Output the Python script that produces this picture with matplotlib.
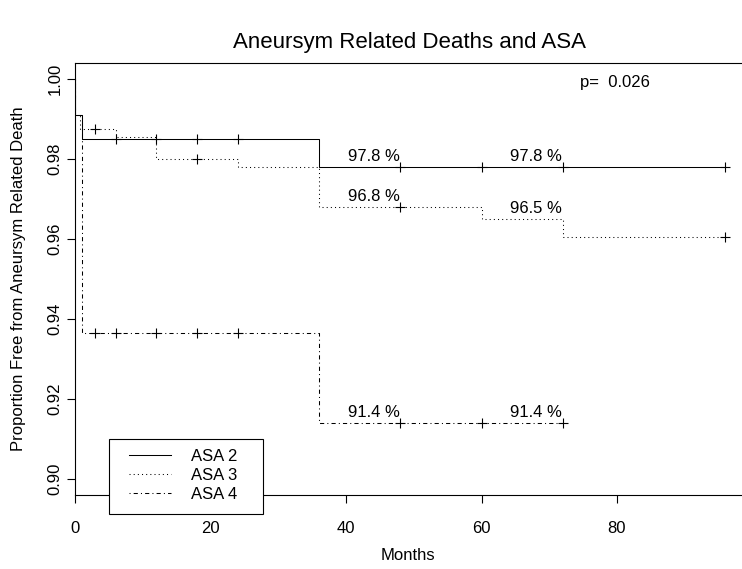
import numpy as np
import matplotlib
matplotlib.use("Agg")
import matplotlib.pyplot as plt
from matplotlib.patches import Rectangle

plt.rcParams['font.family'] = ['Liberation Sans', 'DejaVu Sans']

# Kaplan-Meier step curves (time in months, survival proportion)
asa2_t = [0, 0, 1, 36, 96]
asa2_s = [1.0, 0.991, 0.985, 0.978, 0.978]
asa3_t = [0, 0, 0.8, 6, 12, 24, 36, 60, 72, 96]
asa3_s = [1.0, 0.991, 0.9875, 0.9856, 0.980, 0.978, 0.968, 0.965, 0.9605, 0.9605]
asa4_t = [0, 0, 1, 36, 72]
asa4_s = [1.0, 0.991, 0.9366, 0.914, 0.914]

# censoring times
asa2_cens = [6, 12, 18, 24, 48, 60, 72, 96]
asa3_cens = [3, 18, 48, 96]
asa4_cens = [3, 6, 12, 18, 24, 48, 60, 72]

# survival estimates printed at 48 and 72 months
label_t = [48, 72]
asa2_lab = [0.978, 0.978]
asa3_lab = [0.968, 0.965]
asa4_lab = [0.914, 0.914]

p_value = "0.026"
x_ticks = [0, 20, 40, 60, 80]
y_ticks = [0.90, 0.92, 0.94, 0.96, 0.98, 1.00]


def surv_at(times, surv, t):
    idx = np.searchsorted(times, t, side='right') - 1
    return np.asarray(surv)[idx]


W, H = 742, 569
fig = plt.figure(figsize=(W / 100, H / 100), dpi=100)
ax = fig.add_axes([75 / W, (H - 495) / H, (744 - 75) / W, (495 - 63) / H])

lw = 0.75
dotted = (0, (1, 3))
dotdash = (0, (1, 3, 4, 3))
curves = [
    (asa2_t, asa2_s, asa2_cens, asa2_lab, '-', 'ASA 2'),
    (asa3_t, asa3_s, asa3_cens, asa3_lab, dotted, 'ASA 3'),
    (asa4_t, asa4_s, asa4_cens, asa4_lab, dotdash, 'ASA 4'),
]
handles = []
for t, s, cens, labs, ls, name in curves:
    h, = ax.step(t, s, where='post', color='black', lw=lw, linestyle=ls, label=name)
    handles.append(h)
    ax.plot(cens, surv_at(t, s, cens), linestyle='none', marker='+',
            color='black', markersize=7, markeredgewidth=0.8)
    for x, v in zip(label_t, labs):
        ax.annotate(f"{v * 100:.1f} %", (x, v), xytext=(-0.5, 4),
                    textcoords='offset points', ha='right', va='baseline',
                    fontsize=12)

ax.text(74.5, 0.9992, "p=  " + p_value, ha='left', va='center', fontsize=12)

ax.set_xlim(0, (744 - 75) / 6.775)
ax.set_ylim(0.896, 1.004)
ax.set_xticks(x_ticks)
ax.set_yticks(y_ticks)
ax.set_yticklabels([f"{v:.2f}" for v in y_ticks], rotation=90, va='center')
ax.tick_params(axis='both', direction='out', length=6, width=0.8, labelsize=12)
ax.tick_params(axis='x', pad=13)
ax.tick_params(axis='y', pad=3)
ax.spines['right'].set_visible(False)
for sp in ['top', 'left', 'bottom']:
    ax.spines[sp].set_linewidth(0.8)

ax.set_title("Aneursym Related Deaths and ASA", fontsize=16, pad=11)
fig.text(408 / W, 1 - 556 / H, "Months", ha='center', va='center', fontsize=12)
fig.text(19 / W, 1 - 279 / H, "Proportion Free from Aneursym Related Death",
         ha='center', va='center', rotation=90, fontsize=12)

# legend box: white frame drawn over the axis, entries placed inside it
fig.patches.append(Rectangle((109 / W, 1 - 514 / H), 154 / W, 75 / H,
                             transform=fig.transFigure, facecolor='white',
                             edgecolor='black', linewidth=0.8, zorder=4))
leg = fig.legend(handles=handles, loc='upper left',
                 bbox_to_anchor=(129 / W, 1 - 449 / H), borderaxespad=0,
                 fontsize=12, handlelength=2.5, handletextpad=1.2,
                 labelspacing=0.24, borderpad=0, frameon=False)
leg.set_zorder(5)

fig.savefig("out.png", dpi=100)
